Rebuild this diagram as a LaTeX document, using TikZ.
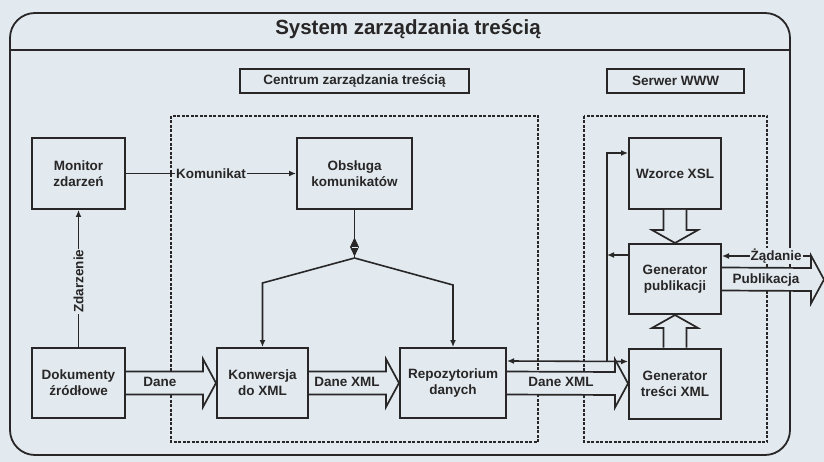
\documentclass[tikz,border=0pt]{standalone}
\usepackage{fontspec}
\setmainfont{Liberation Sans}
\usetikzlibrary{calc,arrows.meta}
\definecolor{bgc}{RGB}{226,234,239}
\definecolor{ink}{RGB}{40,38,38}
\newcommand\fatH[2]{%
 \filldraw[fat] ($(#1)+(0,-11.5)$) -- ($(#2)+(-13,-11.5)$) -- ($(#2)+(-13,-24)$) -- (#2) -- ($(#2)+(-13,24)$) -- ($(#2)+(-13,11.5)$) -- ($(#1)+(0,11.5)$);}
\newcommand\fatDown[2]{%
 \filldraw[fat] ($(#1)+(-11.5,0)$) -- ($(#2)+(-11.5,-13)$) -- ($(#2)+(-23,-13)$) -- (#2) -- ($(#2)+(23,-13)$) -- ($(#2)+(11.5,-13)$) -- ($(#1)+(11.5,0)$);}
\newcommand\fatUp[2]{%
 \filldraw[fat] ($(#1)+(-11.5,0)$) -- ($(#2)+(-11.5,13)$) -- ($(#2)+(-23,13)$) -- (#2) -- ($(#2)+(23,13)$) -- ($(#2)+(11.5,13)$) -- ($(#1)+(11.5,0)$);}
\begin{document}
\begin{tikzpicture}[x=1pt,y=-1pt,
  box/.style={draw=ink,line width=2pt,fill=bgc,inner sep=0pt,align=center,
    font=\bfseries\fontsize{13.5}{16}\selectfont,text=ink},
  lbl/.style={fill=bgc,inner sep=1pt,text=ink,font=\bfseries\fontsize{13.5}{16}\selectfont},
  plain/.style={inner sep=0pt,text=ink,font=\bfseries\fontsize{13.5}{16}\selectfont},
  conn/.style={draw=ink,line width=1.6pt},
  arr/.style={conn,-{Latex[length=7pt,width=6pt]}},
  fat/.style={draw=ink,fill=bgc,line width=1.7pt,line join=miter},
  dashbox/.style={draw=ink,line width=1.6pt,dash pattern=on 3pt off 1.5pt},
  outer/.style={draw=ink,line width=1.8pt}
]
\fill[bgc] (0,0) rectangle (824,462);
\useasboundingbox (0,0) rectangle (824,462);

% outer frame
\draw[outer,rounded corners=25pt] (10,13) rectangle (790,455);
\draw[outer] (10,50) -- (790,50);
\node[text=ink,font=\bfseries\fontsize{20.5}{24}\selectfont] (title) at (408,29) {System zarządzania treścią};

% group labels and dashed areas
\node[box,minimum width=229pt,minimum height=24pt,line width=1.8pt] (centrum) at (354.5,81) {Centrum zarządzania treścią};
\node[box,minimum width=137pt,minimum height=24pt,line width=1.8pt] (serwer) at (675.5,81) {Serwer WWW};
\draw[dashbox] (171,116) rectangle (538,442);
\draw[dashbox] (584,116) rectangle (767,442);

% nodes
\node[box,minimum width=93pt,minimum height=71pt] (mon) at (78.5,173.5) {Monitor\\zdarzeń};
\node[box,minimum width=115pt,minimum height=71pt] (obs) at (354.5,173.5) {Obsługa\\komunikatów};
\node[box,minimum width=93pt,minimum height=70pt] (dok) at (78.5,383) {Dokumenty\\źródłowe};
\node[box,minimum width=91pt,minimum height=70pt] (konw) at (262.5,383) {Konwersja\\do XML};
\node[box,minimum width=106pt,minimum height=70pt] (repo) at (453,383) {Repozytorium\\danych};
\node[box,minimum width=92pt,minimum height=71pt] (wz) at (675,173.5) {Wzorce XSL};
\node[box,minimum width=92pt,minimum height=70pt] (genp) at (675,279) {Generator\\publikacji};
\node[box,minimum width=92pt,minimum height=70pt] (gent) at (675,383.5) {Generator\\treści XML};

% fat arrows
\fatH{dok.east}{konw.west}
\node[plain] (ldane) at (160,382) {Dane};
\fatH{konw.east}{repo.west}
\node[plain] (ldx1) at (347,382) {Dane XML};
\fatH{repo.east}{gent.west}
\node[plain] (ldx2) at (561,382) {Dane XML};
\fatDown{wz.south}{genp.north}
\fatUp{gent.north}{genp.south}
\coordinate (ptip) at (824,279.5);
\fatH{genp.east}{ptip}
\node[plain] (lpub) at (766,280) {Publikacja};

% thin connectors
\draw[arr] (mon.east) -- node[lbl] (lkom) {Komunikat} (obs.west);
\draw[arr] (dok.north) -- node[lbl,rotate=90,pos=0.48] (lzd) {Zdarzenie} (mon.south);

\coordinate (jn) at (354.5,258);
\coordinate (jl) at (262.5,283);
\coordinate (jr) at (453,285);
\draw[conn] (obs.south) -- (jn);
\draw[arr] (jn) -- (jl) -- (konw.north);
\draw[arr] (jn) -- (jr) -- (repo.north);
\filldraw[draw=ink,fill=ink,line width=0.8pt] (354.5,238.5) -- (358.5,247) -- (354.5,255.5) -- (350.5,247) -- cycle;
\draw[bgc,line width=0.6pt] (351.5,247) -- (357.5,247);

\coordinate (rl) at ($(repo.north east)+(0,14)$);
\coordinate (gl) at ($(gent.north west)+(0,14)$);
\draw[conn,{Latex[length=7pt,width=6pt]}-{Latex[length=7pt,width=6pt]}] (rl) -- (gl);
\coordinate (vb) at (607,362);
\coordinate (vt) at (607,153);
\draw[arr] (vb) -- (vt) -- (vt -| wz.west);
\coordinate (gpl) at ($(genp.north west)+(0,12)$);
\draw[arr] (gpl) -- (gpl -| vb);

\coordinate (zq) at (812,256);
\draw[arr] (zq) -- node[lbl,pos=0.4] (lzad) {Żądanie} (zq -| genp.east);
\end{tikzpicture}
\end{document}
